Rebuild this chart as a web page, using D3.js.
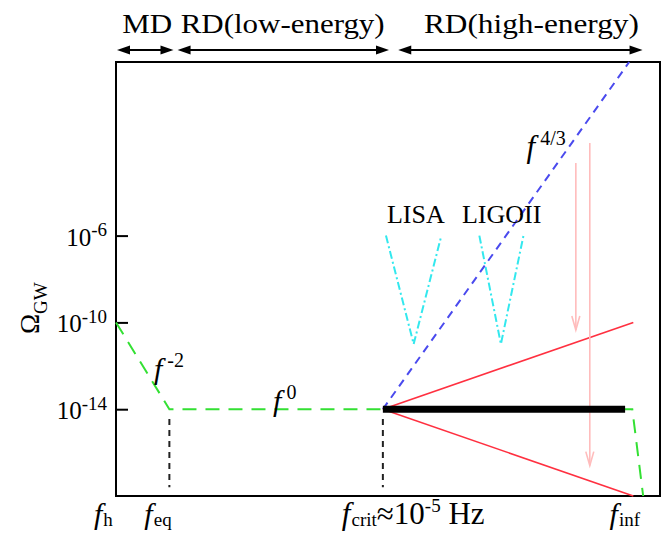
<!DOCTYPE html>
<html><head><meta charset="utf-8">
<script src="https://cdn.jsdelivr.net/npm/d3@7"></script>
<style>
body{margin:0;background:#fff}
svg text{font-family:'Liberation Serif','Tinos','Times New Roman','DejaVu Serif','Noto Serif',serif;fill:#000}
</style>
</head><body>
<svg id="chart" width="663" height="538" font-family="'Liberation Serif','Tinos','DejaVu Serif',serif"></svg>
<script>
// x values: log10(f / Hz); y values: log10(Omega_GW)
const yTicks = [-6, -10, -14];
const freqMarks = [
  {sub: "h", logf: -18},
  {sub: "eq", logf: -15.4},
  {sub: "crit", logf: -5},
  {sub: "inf", logf: 7.65}
];
const greenSpectrum = [[-18, -10], [-15.4, -14], [7.15, -14], [7.68, -18]];
const blueSpectrum = [[-5, -14], [7, 2]];
const redUpper = [[-5, -14], [7.2, -10]];
const redLower = [[-5, -14], [7.2, -18]];
const blackBar = [[-5, -14], [6.8, -14]];
const lisaCurve = [[-4.85, -6], [-3.5, -11], [-2.15, -6]];
const ligoCurve = [[-0.3, -6], [0.75, -11], [1.85, -6]];
const pinkArrows = [
  {logf: 4.4, from: -2.65, to: -10.35},
  {logf: 5.08, from: -1.73, to: -16.6}
];
const dropLines = [-15.4, -5];
const dropFrom = -14.45, dropTo = -17.6;
const eraNames = ["MD", "RD(low-energy)", "RD(high-energy)"];
const eraStart = [-17.95, -15.0, -4.25];
const eraEnd = [-15.2, -4.7, 7.65];
const eraTextStart = [-17.7, -14.85, -3.0];
const eraTextWidth = [50, 204, 215];
const xDomain = [-18, 8.5];
const yDomain = [-18, 2];

const svg = d3.select("#chart");
const W = 663, H = 538;
const m = {left: 116, right: 3, top: 62, bottom: 42};
const x = d3.scaleLinear().domain(xDomain).range([m.left, W - m.right]);
const y = d3.scaleLinear().domain(yDomain).range([H - m.bottom, m.top]);
const line = d3.line().x(d => x(d[0])).y(d => y(d[1]));

// frame
svg.append("rect")
  .attr("x", x(xDomain[0])).attr("y", y(yDomain[1]))
  .attr("width", x(xDomain[1]) - x(xDomain[0]))
  .attr("height", y(yDomain[0]) - y(yDomain[1]))
  .attr("fill", "none").attr("stroke", "#000").attr("stroke-width", 2);

// y axis
const yAxis = d3.axisLeft(y).tickValues(yTicks).tickSizeInner(-12).tickSizeOuter(0).tickPadding(9);
const gy = svg.append("g").attr("transform", `translate(${x(xDomain[0])},0)`).call(yAxis)
  .attr("font-family", null);
gy.select(".domain").remove();
gy.selectAll(".tick line").attr("stroke", "#000").attr("stroke-width", 2);
gy.selectAll(".tick text").each(function(d) {
  const t = d3.select(this);
  t.text(null).attr("font-size", 25).attr("dy", "0.38em").attr("fill", "#000");
  t.append("tspan").text("10");
  t.append("tspan").attr("dy", "-0.5em").attr("font-size", 19).text(d);
});

// Omega_GW label
const oy = svg.append("text")
  .attr("transform", `translate(${39},${334}) rotate(-90)`)
  .attr("font-size", 27);
oy.append("tspan").text("Ω");
oy.append("tspan").attr("font-size", 19).attr("dy", 8).text("GW");

// vertical dashed drop lines
svg.selectAll(".drop").data(dropLines).join("line")
  .attr("x1", d => x(d)).attr("x2", d => x(d))
  .attr("y1", y(dropFrom)).attr("y2", y(dropTo))
  .attr("stroke", "#222").attr("stroke-width", 2).attr("stroke-dasharray", "6,5");

// detector sensitivity curves
[lisaCurve, ligoCurve].forEach(c => {
  svg.append("path").attr("d", line(c)).attr("fill", "none")
    .attr("stroke", "#33e8ee").attr("stroke-width", 2)
    .attr("stroke-dasharray", "8,3,2,3");
});

// blue f^{4/3}
svg.append("path").attr("d", line(blueSpectrum)).attr("fill", "none")
  .attr("stroke", "#4a4aee").attr("stroke-width", 2).attr("stroke-dasharray", "8,6");

// red lines
[redUpper, redLower].forEach(c => {
  svg.append("path").attr("d", line(c)).attr("fill", "none")
    .attr("stroke", "#ff3040").attr("stroke-width", 1.6);
});

// pink arrows
pinkArrows.forEach(a => {
  const px = x(a.logf), y0 = y(a.from), y1 = y(a.to);
  svg.append("line").attr("x1", px).attr("x2", px).attr("y1", y0).attr("y2", y1)
    .attr("stroke", "#ffbcbc").attr("stroke-width", 1.6);
  svg.append("path").attr("d", `M${px - 4},${y1 - 14}L${px},${y1}L${px + 4},${y1 - 14}`)
    .attr("fill", "none").attr("stroke", "#ffbcbc").attr("stroke-width", 1.6);
});

// green spectrum
svg.append("path").attr("d", line(greenSpectrum)).attr("fill", "none")
  .attr("stroke", "#33e033").attr("stroke-width", 2).attr("stroke-dasharray", "14,9");

// black bar
svg.append("path").attr("d", line(blackBar)).attr("fill", "none")
  .attr("stroke", "#000").attr("stroke-width", 7);

// era arrows
const arrowY = m.top - 12;
eraNames.forEach((name, i) => {
  const xa = x(eraStart[i]), xb = x(eraEnd[i]);
  svg.append("line").attr("x1", xa + 8).attr("x2", xb - 8).attr("y1", arrowY).attr("y2", arrowY)
    .attr("stroke", "#000").attr("stroke-width", 2);
  svg.append("path").attr("d", `M${xa},${arrowY}L${xa + 13},${arrowY - 4.5}L${xa + 13},${arrowY + 4.5}Z`);
  svg.append("path").attr("d", `M${xb},${arrowY}L${xb - 13},${arrowY - 4.5}L${xb - 13},${arrowY + 4.5}Z`);
  svg.append("text").attr("x", x(eraTextStart[i])).attr("y", 33)
    .attr("font-size", 27).attr("textLength", eraTextWidth[i])
    .attr("lengthAdjust", "spacingAndGlyphs").text(name);
});

// frequency labels
const labelOffset = {h: -22, eq: -25, crit: -41, inf: -33};
freqMarks.forEach(f => {
  const t = svg.append("text").attr("x", x(f.logf) + labelOffset[f.sub]).attr("y", 524)
    .attr("font-size", f.sub === "crit" ? 31 : 30);
  t.append("tspan").attr("font-style", "italic").text("f");
  t.append("tspan").attr("font-size", 19).attr("dy", 2).attr("dx", 1).text(f.sub);
  if (f.sub === "crit") {
    t.append("tspan").attr("dy", -2).text("≈10");
    t.append("tspan").attr("font-size", 19).attr("dy", -12).text("-5");
    t.append("tspan").attr("dy", 12).text(" Hz");
  }
});

// slope labels
function slopeLabel(px, py, exp, size, supSize) {
  const t = svg.append("text").attr("x", px).attr("y", py).attr("font-size", size);
  t.append("tspan").attr("font-style", "italic").text("f");
  t.append("tspan").attr("font-size", supSize).attr("dx", 5).attr("dy", -size * 0.4).text(exp);
}
slopeLabel(x(-16.15), y(-12.6), "-2", 30, 20);
slopeLabel(x(-10.35), y(-14) + 2, "0", 30, 20);
slopeLabel(x(2.0), y(-2.4), "4/3", 31, 20);

// detector labels
svg.append("text").attr("x", x(-4.8)).attr("y", y(-5.4)).attr("font-size", 26).text("LISA");
svg.append("text").attr("x", x(-1.15)).attr("y", y(-5.4)).attr("font-size", 26).text("LIGOII");
</script>
</body></html>
